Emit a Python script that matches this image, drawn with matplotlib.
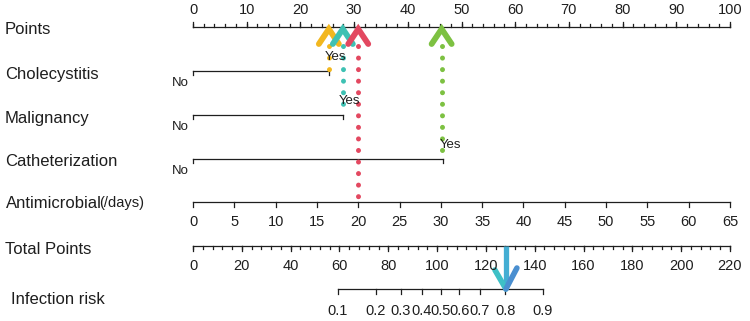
import numpy as np
import matplotlib
matplotlib.use('Agg')
import matplotlib.pyplot as plt

plt.rcParams['font.family'] = ['Liberation Sans', 'DejaVu Sans']

# ---- data ----
row_names   = ['Points', 'Cholecystitis', 'Malignancy', 'Catheterization',
               'Antimicrobial', 'Total Points', 'Infection risk']
binary_vars = ['Cholecystitis', 'Malignancy', 'Catheterization']
yes_points  = [25.3, 27.9, 46.6]          # points for "Yes" (No = 0)

points_major = np.arange(0, 101, 10)
points_minor = np.arange(0, 101, 2)

anti_ticks  = np.arange(0, 66, 5)         # days, 65 days = 100 points
anti_max    = 65
total_major = np.arange(0, 221, 20)
total_minor = np.arange(0, 221, 4)
total_max   = 220

risk_ticks  = [0.1, 0.2, 0.3, 0.4, 0.5, 0.6, 0.7, 0.8, 0.9]
risk_center = 101.4                       # total points where risk = 0.5
risk_slope  = 0.0523                      # logit per total point

# example patient
patient_points = {'Cholecystitis': 25.3, 'Malignancy': 27.9,
                  'Catheterization': 46.3, 'Antimicrobial': 20}
patient_total  = 128.2
arrow_colors   = {'Cholecystitis': '#F2B71F', 'Malignancy': '#3EC1B3',
                  'Catheterization': '#7DC142', 'Antimicrobial': '#E34860'}
down_color = '#44AED3'

# ---- layout (pixel rows, figure 750x321) ----
W, H = 750, 321
x0, x100 = 193, 730
ppx = (x100 - x0) / 100.0
row_y = {'Points': 27, 'Cholecystitis': 71, 'Malignancy': 115,
         'Catheterization': 159, 'Antimicrobial': 202,
         'Total Points': 246, 'Infection risk': 289}
ink = '#1e1e1e'

def pxx(px):
  return (px - x0) / ppx

fig = plt.figure(figsize=(W/100, H/100), dpi=100)
ax = fig.add_axes([0, 0, 1, 1])
ax.set_xlim(pxx(0), pxx(W))
ax.set_ylim(H, 0)
ax.axis('off')

def scale(xs, y, major, minor, labels, up=False, lab_off=20, fs=10.5):
  ax.plot([xs[0], xs[-1]], [y, y], color=ink, lw=0.9)
  s = -1 if up else 1
  for m in minor:
    ax.plot([m, m], [y, y + s*3], color=ink, lw=0.9)
  for m, l in zip(major, labels):
    ax.plot([m, m], [y, y + s*5], color=ink, lw=0.9)
    ax.text(m, y + s*lab_off, l, ha='center', va='center', fontsize=fs, color=ink)

# row names
for name in row_names:
  y = row_y[name]
  if name == 'Antimicrobial':
    t = ax.text(pxx(6), y + 2, 'Antimicrobial', fontsize=12, va='center', color=ink)
    ax.annotate('(/days)', xy=(1, 0.55), xycoords=t, xytext=(-2, 0),
                textcoords='offset points', fontsize=10.5, va='center', color=ink)
  elif name == 'Infection risk':
    ax.text(pxx(11), y + 11, name, fontsize=12, va='center', color=ink)
  else:
    ax.text(pxx(5), y + 3, name, fontsize=12, va='center', color=ink)

# points scale
scale(points_major, row_y['Points'], points_major, points_minor,
      [str(v) for v in points_major], up=True, lab_off=17)

# binary variables
for name, yp in zip(binary_vars, yes_points):
  y = row_y[name]
  ax.plot([0, yp], [y, y], color=ink, lw=0.9)
  ax.plot([0, 0], [y, y + 4], color=ink, lw=0.9)
  ax.plot([yp, yp], [y, y + 4], color=ink, lw=0.9)
  ax.text(-2.3, y + 12, 'No', fontsize=9.5, ha='center', va='center', color=ink)
  ax.text(yp + 1.3, y - 14, 'Yes', fontsize=9.5, ha='center', va='center', color=ink)

# antimicrobial
ya = row_y['Antimicrobial']
anti_pts = anti_ticks * 100.0 / anti_max
scale(anti_pts, ya, anti_pts, [], [str(v) for v in anti_ticks], lab_off=20)

# total points
yt = row_y['Total Points']
scale(total_minor * 100.0 / total_max, yt, total_major * 100.0 / total_max,
      total_minor * 100.0 / total_max, [str(v) for v in total_major], lab_off=20)

# risk
yr = row_y['Infection risk']
rp = np.array(risk_ticks)
risk_tp = risk_center + np.log(rp / (1 - rp)) / risk_slope
risk_pts = risk_tp * 100.0 / total_max
scale(risk_pts, yr, risk_pts, [], [str(v) for v in risk_ticks], lab_off=22)

# upward arrows from each variable to the points scale
yp_axis = row_y['Points']
for name, val in patient_points.items():
  c = arrow_colors[name]
  if name == 'Antimicrobial':
    xv = val * 100.0 / anti_max
  else:
    xv = val
  ybot = row_y[name]
  ax.plot([xv, xv], [yp_axis + 19, ybot], color=c, lw=3.6,
          linestyle=(0, (0.01, 2.3)), dash_capstyle='round')
  dx = 10 / ppx
  ax.plot([xv - dx, xv, xv + dx], [yp_axis + 17, yp_axis + 2, yp_axis + 17],
          color=c, lw=4.2, solid_capstyle='round', solid_joinstyle='miter')

# downward arrow total points -> risk
xt = patient_total * 100.0 / total_max
ax.plot([xt, xt], [yt, yr - 3], color=down_color, lw=3.8, solid_capstyle='butt')
dx = 11 / ppx
ax.plot([xt - dx, xt], [yr - 19, yr], color='#3EC0C6', lw=4, solid_capstyle='round')
ax.plot([xt, xt + dx], [yr, yr - 21], color='#4A8FD0', lw=4, solid_capstyle='round')

fig.savefig('out.png', dpi=100, facecolor='white')
